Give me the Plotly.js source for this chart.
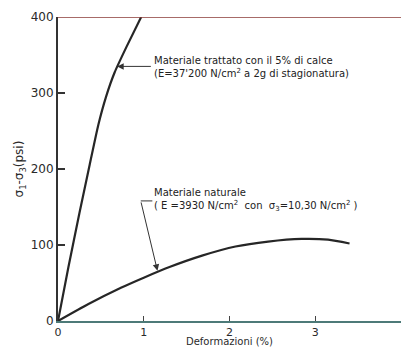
<!DOCTYPE html>
<html>
<head>
<meta charset="utf-8">
<script src="https://cdn.plot.ly/plotly-3.0.1.min.js"></script>
<style>html,body{margin:0;padding:0;background:#fff;}#chart{width:401px;height:347px;}</style>
</head>
<body>
<div id="chart"></div>
<script>
// Materiale trattato con il 5% di calce
const treatedX = [0, 0.12, 0.25, 0.37, 0.47, 0.56, 0.66, 0.80, 0.97];
const treatedY = [0, 70, 142, 206, 258, 295, 327, 361, 400];
// Materiale naturale
const naturalX = [0, 0.35, 0.74, 1.0, 1.3, 1.68, 2.07, 2.45, 2.84, 3.15, 3.40];
const naturalY = [0, 22, 44, 57, 71, 86, 98, 104.5, 108, 107, 102];

const xTicks = [0, 1, 2, 3, 4];
const yTicks = [0, 100, 200, 300, 400];

const labelTreated = "Materiale trattato con il 5% di calce<br>(E=37'200 N/cm<sup>2</sup> a 2g di stagionatura)";
const labelNatural = "Materiale naturale<br>( E =3930 N/cm<sup>2</sup>  con  σ<sub>3</sub>=10,30 N/cm<sup>2</sup> )";
const xTitle = "Deformazioni (%)";
const yTitle = "σ<sub>1</sub>-σ<sub>3</sub>(psi)";

const font = "DejaVu Sans, Liberation Sans, sans-serif";

const traces = [
  {x: treatedX, y: treatedY, mode: 'lines', line: {color: '#262626', width: 2.2, shape: 'spline', smoothing: 0.5}, hoverinfo: 'skip', showlegend: false},
  {x: naturalX, y: naturalY, mode: 'lines', line: {color: '#262626', width: 2.2, shape: 'spline', smoothing: 0.6}, hoverinfo: 'skip', showlegend: false}
];

const layout = {
  width: 401, height: 347,
  margin: {l: 58, r: 0, t: 17, b: 26},
  paper_bgcolor: '#fff', plot_bgcolor: '#fff',
  font: {family: font, color: '#2a2a2a', size: 12},
  xaxis: {
    range: [0, 4], tickvals: xTicks, ticktext: xTicks.map(String),
    ticks: 'inside', ticklen: 5, tickcolor: '#444', tickwidth: 1,
    showgrid: false, zeroline: false, showline: true, linecolor: '#4d7a78', linewidth: 2,
    tickfont: {size: 11, family: font},
    title: {text: xTitle, font: {size: 10, family: font}, standoff: 1},
    automargin: false, fixedrange: true
  },
  yaxis: {
    range: [0, 400], tickvals: yTicks, ticktext: ['0', '100', '200', '300', '400'],
    ticks: 'inside', ticklen: 7, tickcolor: '#333', tickwidth: 1.5,
    showgrid: false, zeroline: false, showline: true, linecolor: '#333', linewidth: 2,
    tickfont: {size: 12, family: font},
    title: {text: yTitle, font: {size: 12, family: font}, standoff: 4},
    automargin: false, fixedrange: true
  },
  shapes: [
    {type: 'line', xref: 'paper', yref: 'y', x0: 0, x1: 1, y0: 400, y1: 400, line: {color: '#8a3a36', width: 1.5}},
    {type: 'line', xref: 'x', yref: 'y', x0: 0.965, x1: 1.10, y0: 158, y1: 158, line: {color: '#333', width: 1}}
  ],
  annotations: [
    {x: 1.1, y: 334, xref: 'x', yref: 'y', text: labelTreated, showarrow: false, xanchor: 'left', yanchor: 'middle', align: 'left', font: {size: 10, family: font, color: '#222'}},
    {x: 0.69, y: 335, xref: 'x', yref: 'y', ax: 1.1, ay: 335, axref: 'x', ayref: 'y', text: '', showarrow: true, arrowhead: 2, arrowsize: 1.3, arrowwidth: 1, arrowcolor: '#333'},
    {x: 1.1, y: 159, xref: 'x', yref: 'y', text: labelNatural, showarrow: false, xanchor: 'left', yanchor: 'middle', align: 'left', font: {size: 10, family: font, color: '#222'}},
    {x: 1.16, y: 66, xref: 'x', yref: 'y', ax: 0.965, ay: 158, axref: 'x', ayref: 'y', text: '', showarrow: true, arrowhead: 2, arrowsize: 1.3, arrowwidth: 1, arrowcolor: '#333'}
  ]
};

Plotly.newPlot('chart', traces, layout, {displayModeBar: false, staticPlot: true});
</script>
</body>
</html>
